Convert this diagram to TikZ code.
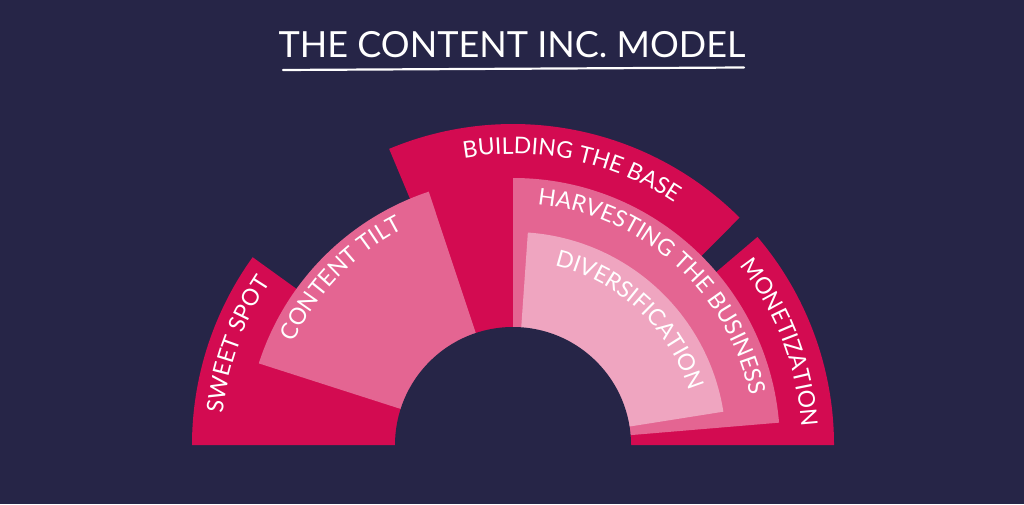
\documentclass[tikz,border=0pt]{standalone}
\usepackage{fontspec}
\setmainfont{Lato}
\usetikzlibrary{decorations.text}
\definecolor{bg}{HTML}{262547}
\definecolor{pinkD}{HTML}{D30B51}
\definecolor{pinkM}{HTML}{E46592}
\definecolor{pinkL}{HTML}{EFA5C0}
\newcommand\arcfont{\fontsize{23}{23}\selectfont}
\begin{document}
\begin{tikzpicture}[x=1pt,y=1pt,
  arclabel/.style={decorate, decoration={text along path, text align=center, text color=white, text={|\arcfont|#1}}}]
\fill[bg] (0,0) rectangle (1024,504);
\useasboundingbox (0,0) rectangle (1024,504);
\coordinate (C) at (513,59);
% dark outer wedges
\fill[pinkD] (C) -- ([shift={(180:321)}]C) arc[start angle=180, end angle=144.2, radius=321] -- cycle;
\fill[pinkD] (C) -- ([shift={(112.7:321)}]C) arc[start angle=112.7, end angle=45.1, radius=321] -- cycle;
\fill[pinkD] (C) -- ([shift={(40.4:321)}]C) arc[start angle=40.4, end angle=0, radius=321] -- cycle;
% medium wedges
\fill[pinkM] (C) -- ([shift={(162.2:267)}]C) arc[start angle=162.2, end angle=108.4, radius=267] -- cycle;
\fill[pinkM] (C) -- ([shift={(90:267)}]C) arc[start angle=90, end angle=4.8, radius=267] -- cycle;
% light wedge
\fill[pinkL] (C) -- ([shift={(86:213)}]C) arc[start angle=86, end angle=9, radius=213] -- cycle;
% hole
\fill[bg] ([shift={(180:118)}]C) arc[start angle=180, end angle=0, radius=118] -- ++(0,-1) -- ++(-236,0) -- cycle;
% labels
\path[arclabel={SWEET SPOT}] ([shift={(200:292)}]C) arc[start angle=200, end angle=120, radius=292];
\path[arclabel={CONTENT TILT}] ([shift={(186:242)}]C) arc[start angle=186, end angle=86, radius=242];
\path[arclabel={BUILDING THE BASE}] ([shift={(128:291)}]C) arc[start angle=128, end angle=28, radius=291];
\path[arclabel={HARVESTING THE BUSINESS}] ([shift={(108:242)}]C) arc[start angle=108, end angle=-12, radius=242];
\path[arclabel={DIVERSIFICATION}] ([shift={(107:184)}]C) arc[start angle=107, end angle=-13, radius=184];
\path[arclabel={MONETIZATION}] ([shift={(71:289)}]C) arc[start angle=71, end angle=-29, radius=289];
% title
\node[font=\fontsize{36}{36}\selectfont, text=white, anchor=base, inner sep=0] (title) at (512,446) {THE CONTENT INC. MODEL};
\draw[white, line width=2.2pt, line cap=round] (283,434) -- (744,436.5);
\end{tikzpicture}
\end{document}
